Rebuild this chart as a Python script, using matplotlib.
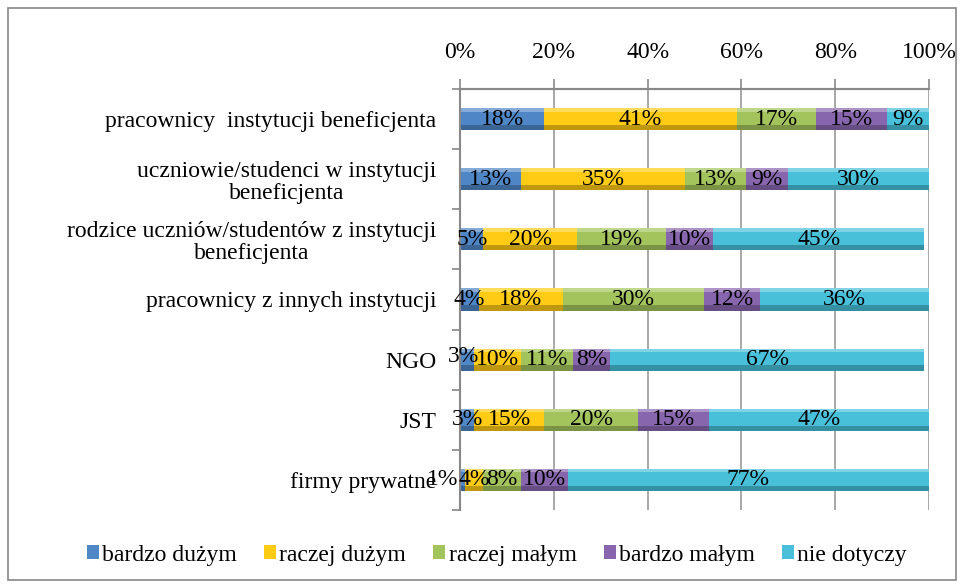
import matplotlib
matplotlib.use("Agg")
import matplotlib.pyplot as plt
from matplotlib.patches import Rectangle
from matplotlib.colors import to_rgb
import numpy as np

categories = [
    "pracownicy  instytucji beneficjenta",
    "uczniowie/studenci w instytucji\nbeneficjenta",
    "rodzice uczniów/studentów z instytucji\nbeneficjenta",
    "pracownicy z innych instytucji",
    "NGO",
    "JST",
    "firmy prywatne",
]
series = ["bardzo dużym", "raczej dużym", "raczej małym", "bardzo małym", "nie dotyczy"]
bardzo_duzym = [18, 13, 5, 4, 3, 3, 1]
raczej_duzym = [41, 35, 20, 18, 10, 15, 4]
raczej_malym = [17, 13, 19, 30, 11, 20, 8]
bardzo_malym = [15, 9, 10, 12, 8, 15, 10]
nie_dotyczy = [9, 30, 45, 36, 67, 47, 77]
values = [bardzo_duzym, raczej_duzym, raczej_malym, bardzo_malym, nie_dotyczy]
colors = ["#4F86C6", "#FFCB14", "#A3C45C", "#8866AE", "#48C0DA"]
xticks = [0, 20, 40, 60, 80, 100]


def mix(c, other, t):
    a = np.array(to_rgb(c)); b = np.array(to_rgb(other))
    return tuple(a * (1 - t) + b * t)


plt.rcParams['font.family'] = ['Liberation Serif', 'DejaVu Serif']
FS = 17
H = 0.37
GRAY = '#888888'

fig = plt.figure(figsize=(9.64, 5.87), dpi=100)
ax = fig.add_axes([460/964, 1-510/587, (929-460)/964, (510-89)/587])

y = np.arange(len(categories))
left = np.zeros(len(categories))
for si, (name, vals, c) in enumerate(zip(series, values, colors)):
    vals = np.array(vals, dtype=float)
    ax.barh(y, vals, left=left, height=H, color=c, label=name, edgecolor='none', zorder=3)
    # bevel: lighter top strip, darker bottom strip
    ax.barh(y - H/2 + H*0.08, vals, left=left, height=H*0.16, color=mix(c, 'white', 0.3),
            edgecolor='none', zorder=3.1)
    ax.barh(y + H/2 - H*0.12, vals, left=left, height=H*0.24, color=mix(c, 'black', 0.25),
            edgecolor='none', zorder=3.1)
    for yi, l, v in zip(y, left, vals):
        xx, yy, ha = l + v/2, yi, 'center'
        if si == 0 and v <= 1:
            xx, ha = -0.3, 'right'
        elif si == 0 and v <= 3 and categories[yi] == "NGO":
            xx, yy = 0.8, yi - 0.06
        ax.text(xx, yy, f"{int(v)}%", ha=ha, va='center', fontsize=FS, color='black',
                zorder=4, clip_on=False)
    left += vals

ax.set_xlim(0, 100)
ax.set_ylim(len(categories)-0.5, -0.5)
ax.set_xticks(xticks)
ax.set_xticklabels([f"{t}%" for t in xticks], fontsize=FS)
ax.xaxis.tick_top()
ax.tick_params(axis='x', length=7, width=1.2, color=GRAY, pad=12)
ax.set_yticks(y)
ax.set_yticklabels(categories, fontsize=FS, multialignment='center', linespacing=1.05)
ax.tick_params(axis='y', length=0, pad=17)
ax.set_yticks(np.arange(-0.5, len(categories), 1), minor=True)
ax.tick_params(axis='y', which='minor', length=6, color=GRAY, width=1.2)
ax.grid(axis='x', color='#999999', linewidth=1.2, zorder=0)
for s in ['right', 'bottom']:
    ax.spines[s].set_visible(False)
for s in ['left', 'top']:
    ax.spines[s].set_visible(True)
    ax.spines[s].set_color(GRAY)
    ax.spines[s].set_linewidth(1.5)
    ax.spines[s].set_zorder(3.5)
ax.axhline(-0.5, color=GRAY, linewidth=1.5, clip_on=False, zorder=3.5)

leg = fig.legend(loc='center', bbox_to_anchor=(497/964, 1-555/587), ncol=5, frameon=False,
                 fontsize=FS, handlelength=0.5, handleheight=0.55, handletextpad=0.15,
                 columnspacing=1.15, borderaxespad=0)

fig.patches.append(Rectangle((8/964, 1-580/587), 948/964, 572/587, transform=fig.transFigure,
                             fill=False, edgecolor=GRAY, linewidth=1.2))

fig.savefig("out.png", dpi=100)
